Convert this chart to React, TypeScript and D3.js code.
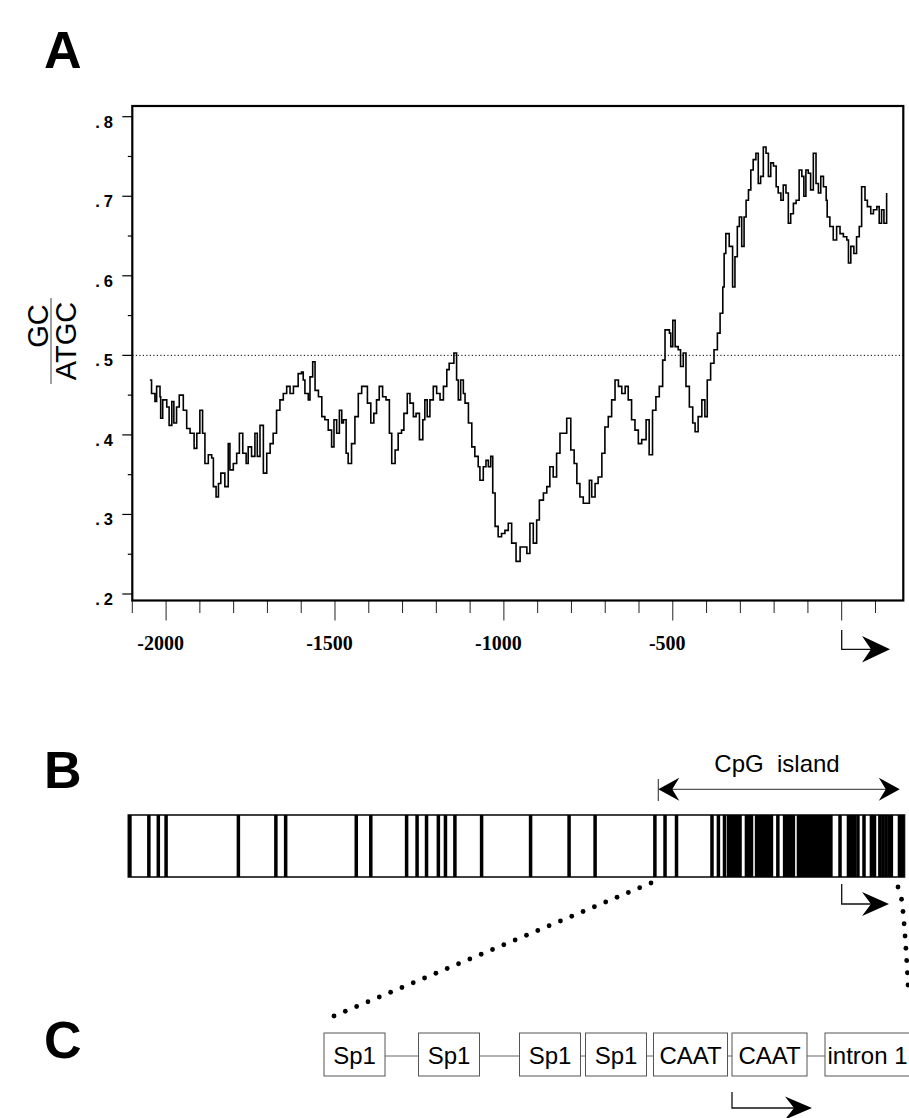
import { useEffect, useRef } from "react";
import * as d3 from "d3";

// Panel A: GC / ATGC ratio along the promoter, position in bp relative to the TSS
const gcPos = [
  -2048, -2043, -2033, -2028, -2018, -2016, -2010, -1998, -1991, -1983, -1977, -1969, -1961, -1949, -1939,
  -1929, -1917, -1909, -1900, -1892, -1885, -1875, -1865, -1860, -1852, -1845, -1838, -1826, -1816, -1811,
  -1801, -1791, -1783, -1773, -1763, -1757, -1747, -1737, -1730, -1722, -1712, -1702, -1692, -1683, -1673,
  -1663, -1653, -1643, -1633, -1623, -1609, -1599, -1594, -1589, -1579, -1574, -1566, -1559, -1549, -1539,
  -1530, -1520, -1510, -1503, -1495, -1487, -1480, -1475, -1467, -1461, -1451, -1441, -1431, -1421, -1411,
  -1404, -1394, -1385, -1377, -1369, -1359, -1349, -1339, -1332, -1322, -1313, -1303, -1296, -1286, -1278,
  -1268, -1260, -1250, -1240, -1234, -1227, -1219, -1209, -1199, -1189, -1179, -1169, -1162, -1155, -1148,
  -1140, -1135, -1128, -1120, -1115, -1105, -1095, -1086, -1076, -1071, -1061, -1053, -1046, -1039, -1033,
  -1026, -1017, -1007, -997, -987, -977, -964, -952, -932, -923, -913, -903, -895, -883, -873,
  -864, -854, -844, -834, -824, -814, -802, -792, -784, -775, -765, -753, -747, -740, -730,
  -721, -710, -701, -691, -681, -671, -661, -651, -641, -632, -622, -612, -602, -592, -579,
  -570, -560, -550, -540, -530, -523, -510, -506, -500, -493, -484, -477, -469, -461, -451,
  -441, -434, -425, -414, -405, -398, -388, -378, -368, -360, -352, -348, -343, -333, -323,
  -316, -309, -303, -296, -289, -283, -276, -269, -262, -254, -247, -240, -232, -224, -217,
  -210, -202, -194, -188, -180, -173, -165, -158, -151, -143, -135, -126, -118, -112, -106,
  -99, -92, -84, -76, -69, -62, -54, -46, -43, -35, -25, -15, -5, 5, 15,
  20, 27, 36, 44, 52, 59, 69, 76, 86, 94, 104, 111, 118, 125, 133,
];
const gcVal = [
  0.469, 0.452, 0.442, 0.461, 0.448, 0.421, 0.444, 0.435, 0.412, 0.442, 0.415, 0.435, 0.45, 0.431, 0.408,
  0.402, 0.383, 0.402, 0.431, 0.402, 0.364, 0.375, 0.371, 0.335, 0.322, 0.339, 0.352, 0.335, 0.389, 0.356,
  0.364, 0.377, 0.402, 0.377, 0.364, 0.385, 0.373, 0.402, 0.373, 0.412, 0.352, 0.377, 0.389, 0.402, 0.431,
  0.444, 0.452, 0.461, 0.452, 0.461, 0.477, 0.479, 0.469, 0.452, 0.444, 0.473, 0.492, 0.456, 0.448, 0.423,
  0.419, 0.406, 0.385, 0.419, 0.402, 0.431, 0.415, 0.419, 0.377, 0.364, 0.389, 0.423, 0.452, 0.461, 0.461,
  0.44, 0.415, 0.427, 0.444, 0.461, 0.448, 0.444, 0.402, 0.364, 0.381, 0.402, 0.406, 0.427, 0.452, 0.44,
  0.423, 0.427, 0.394, 0.419, 0.444, 0.423, 0.444, 0.461, 0.452, 0.444, 0.461, 0.482, 0.49, 0.49, 0.503,
  0.469, 0.444, 0.469, 0.452, 0.44, 0.415, 0.385, 0.373, 0.36, 0.343, 0.36, 0.368, 0.36, 0.373, 0.327,
  0.285, 0.272, 0.276, 0.28, 0.289, 0.264, 0.241, 0.259, 0.251, 0.289, 0.264, 0.293, 0.318, 0.327, 0.335,
  0.36, 0.347, 0.377, 0.402, 0.402, 0.421, 0.381, 0.364, 0.339, 0.322, 0.314, 0.314, 0.343, 0.322, 0.339,
  0.347, 0.377, 0.41, 0.423, 0.444, 0.469, 0.461, 0.452, 0.461, 0.444, 0.419, 0.406, 0.389, 0.394, 0.419,
  0.375, 0.431, 0.448, 0.461, 0.494, 0.532, 0.528, 0.511, 0.544, 0.511, 0.507, 0.486, 0.503, 0.461, 0.435,
  0.415, 0.404, 0.423, 0.444, 0.423, 0.469, 0.49, 0.507, 0.528, 0.553, 0.586, 0.628, 0.653, 0.637, 0.586,
  0.624, 0.662, 0.674, 0.637, 0.674, 0.695, 0.708, 0.733, 0.746, 0.754, 0.716, 0.725, 0.762, 0.754, 0.725,
  0.742, 0.738, 0.712, 0.704, 0.695, 0.714, 0.704, 0.666, 0.678, 0.691, 0.695, 0.733, 0.725, 0.7, 0.733,
  0.729, 0.708, 0.754, 0.716, 0.704, 0.725, 0.712, 0.695, 0.674, 0.662, 0.645, 0.662, 0.653, 0.649, 0.645,
  0.616, 0.637, 0.628, 0.649, 0.662, 0.712, 0.695, 0.687, 0.678, 0.683, 0.687, 0.666, 0.683, 0.666, 0.704,
];

const yMajorTicks = [0.2, 0.3, 0.4, 0.5, 0.6, 0.7, 0.8];
const yTickDigits = ["2", "3", "4", "5", "6", "7", "8"];
const xLabelTicks = [-2000, -1500, -1000, -500];
const xTickLabels = ["-2000", "-1500", "-1000", "-500"];
const referenceLevel = 0.5;

// Panel B: CpG dinucleotide positions (bp)
const cpgSites = [
  -2107, -2051, -2023, -2000, -1786, -1675, -1646, -1437, -1394, -1288, -1257, -1229, -1194, -1173, -1145,
  -1066, -921, -807, -730, -553, -523, -489, -384, -365, -347, -335, -326, -317, -308, -301,
  -282, -273, -267, -252, -243, -234, -226, -217, -208, -189, -169, -160, -152, -143, -128,
  -119, -110, -101, -92, -83, -75, -66, -57, -48, -39, -32, -5, 20, 29, 38,
  48, 66, 88, 97, 113, 122, 131, 140, 147, 171, 180,
];
const cpgIsland = [-543, 172];
const cpgLabel = "CpG  island";

// Panel C: promoter elements
const elements = ["Sp1", "Sp1", "Sp1", "Sp1", "CAAT", "CAAT", "intron 1"];

const sans = "'Liberation Sans', Arial, Helvetica, sans-serif";
const serif = "'Liberation Serif', 'Times New Roman', serif";

const App = () => {
  const svgRef = useRef<SVGSVGElement>(null);

  useEffect(() => {
    const svg = d3.select(svgRef.current);
    svg.selectAll("*").remove();

    // bent "transcription start" arrow
    const tss = (x0: number, yTop: number, yb: number, tip: number, back: number, h: number) => {
      const g = svg.append("g");
      g.append("path")
        .attr("d", `M${x0},${yTop} L${x0},${yb} L${tip - 14},${yb}`)
        .attr("fill", "none")
        .attr("stroke", "#111")
        .attr("stroke-width", 1.3);
      g.append("path")
        .attr("d", `M${tip},${yb} L${back},${yb - h} L${back + 9},${yb} L${back},${yb + h} Z`)
        .attr("fill", "#000");
    };

    const letter = (t: string, yy: number) =>
      svg
        .append("text")
        .attr("x", 44)
        .attr("y", yy)
        .attr("font-family", sans)
        .attr("font-weight", "bold")
        .attr("font-size", 52)
        .text(t);

    // ---------- Panel A ----------
    const x = d3.scaleLinear().domain([-2100, 0]).range([132.3, 841.7]);
    const y = d3.scaleLinear().domain([0.2, 0.8]).range([594, 116.7]);
    const frame = { left: 132.3, right: 903.3, top: 106, bottom: 600.5 };

    letter("A", 68);

    const gA = svg.append("g");

    // y ticks
    const yMinor = d3.range(0.25, 0.8, 0.1);
    gA.selectAll(".ymaj")
      .data(yMajorTicks)
      .enter()
      .append("line")
      .attr("x1", frame.left - 10)
      .attr("x2", frame.left)
      .attr("y1", (d) => y(d))
      .attr("y2", (d) => y(d))
      .attr("stroke", "#000")
      .attr("stroke-width", 1.2);
    gA.selectAll(".ymin")
      .data(yMinor)
      .enter()
      .append("line")
      .attr("x1", frame.left - 4.5)
      .attr("x2", frame.left)
      .attr("y1", (d) => y(d))
      .attr("y2", (d) => y(d))
      .attr("stroke", "#000")
      .attr("stroke-width", 1.2);
    const ylab = gA
      .selectAll(".ylab")
      .data(yMajorTicks)
      .enter()
      .append("text")
      .attr("x", 113)
      .attr("y", (d) => y(d) + 11)
      .attr("text-anchor", "end")
      .attr("font-family", sans)
      .attr("font-weight", "bold")
      .attr("font-size", 16.5);
    ylab.append("tspan").text(".");
    ylab
      .append("tspan")
      .attr("dx", 4)
      .text((d, i) => yTickDigits[i]);

    // x ticks
    const xTicks = d3.range(-2100, 101, 100);
    gA.selectAll(".xt")
      .data(xTicks)
      .enter()
      .append("line")
      .attr("x1", (d) => x(d))
      .attr("x2", (d) => x(d))
      .attr("y1", frame.bottom)
      .attr("y2", (d) => frame.bottom + (d % 500 === 0 ? 20 : 12.5))
      .attr("stroke", "#222")
      .attr("stroke-width", 1);
    gA.selectAll(".xlab")
      .data(xLabelTicks)
      .enter()
      .append("text")
      .attr("x", (d) => x(d) - 5.5)
      .attr("y", 650)
      .attr("text-anchor", "middle")
      .attr("font-family", serif)
      .attr("font-weight", "bold")
      .attr("font-size", 20)
      .text((d, i) => xTickLabels[i]);

    // reference line at 0.5
    gA.append("line")
      .attr("x1", frame.left)
      .attr("x2", frame.right)
      .attr("y1", y(referenceLevel))
      .attr("y2", y(referenceLevel))
      .attr("stroke", "#000")
      .attr("stroke-width", 1)
      .attr("stroke-dasharray", "1.2,2.3");

    // GC curve
    const pts: [number, number][] = gcPos.map((p, i) => [p, gcVal[i]]);
    const line = d3
      .line<[number, number]>()
      .x((d) => x(d[0]))
      .y((d) => y(d[1]))
      .curve(d3.curveStepAfter);
    gA.append("path")
      .datum(pts)
      .attr("d", line)
      .attr("fill", "none")
      .attr("stroke", "#000")
      .attr("stroke-width", 1.6);

    // frame
    gA.append("rect")
      .attr("x", frame.left)
      .attr("y", frame.top)
      .attr("width", frame.right - frame.left)
      .attr("height", frame.bottom - frame.top)
      .attr("fill", "none")
      .attr("stroke", "#000")
      .attr("stroke-width", 2.2);

    // y label: GC / ATGC
    const yl = svg.append("g").attr("transform", "translate(0,341) rotate(-90)");
    yl.append("text")
      .attr("x", 15)
      .attr("y", 48)
      .attr("text-anchor", "middle")
      .attr("font-family", sans)
      .attr("font-size", 29)
      .text("GC");
    yl.append("line")
      .attr("x1", -43)
      .attr("x2", 43)
      .attr("y1", 51)
      .attr("y2", 51)
      .attr("stroke", "#444")
      .attr("stroke-width", 1);
    yl.append("text")
      .attr("x", 0)
      .attr("y", 76)
      .attr("text-anchor", "middle")
      .attr("font-family", sans)
      .attr("font-size", 29)
      .text("ATGC");

    tss(x(0), 630, 649.3, 890, 862, 13.3);

    // ---------- Panel B ----------
    letter("B", 788);
    const b = { left: 128.3, right: 904.5, top: 815, bottom: 877 };
    const gB = svg.append("g");

    gB.append("rect")
      .attr("x", b.left)
      .attr("y", b.top)
      .attr("width", b.right - b.left)
      .attr("height", b.bottom - b.top)
      .attr("fill", "#fff")
      .attr("stroke", "#111")
      .attr("stroke-width", 1.6);
    gB.selectAll(".cpg")
      .data(cpgSites)
      .enter()
      .append("rect")
      .attr("x", (d) => x(d) - 1.75)
      .attr("y", b.top)
      .attr("width", 3.5)
      .attr("height", b.bottom - b.top)
      .attr("fill", "#000");

    // CpG island span
    const ix0 = x(cpgIsland[0]);
    const ix1 = x(cpgIsland[1]);
    const iy = 789.3;
    gB.append("line")
      .attr("x1", ix0)
      .attr("x2", ix0)
      .attr("y1", 779)
      .attr("y2", 801)
      .attr("stroke", "#222")
      .attr("stroke-width", 1);
    gB.append("line")
      .attr("x1", ix0 + 8)
      .attr("x2", ix1 - 8)
      .attr("y1", iy)
      .attr("y2", iy)
      .attr("stroke", "#555")
      .attr("stroke-width", 1.2);
    gB.append("path")
      .attr("d", `M${ix0},${iy} L${ix0 + 21},${iy - 11.5} L${ix0 + 14},${iy} L${ix0 + 21},${iy + 11.5} Z`)
      .attr("fill", "#000");
    gB.append("path")
      .attr("d", `M${ix1},${iy} L${ix1 - 21},${iy - 11.5} L${ix1 - 14},${iy} L${ix1 - 21},${iy + 11.5} Z`)
      .attr("fill", "#000");
    gB.append("text")
      .attr("x", 777)
      .attr("y", 772)
      .attr("text-anchor", "middle")
      .attr("font-family", sans)
      .attr("font-size", 24)
      .style("white-space", "pre")
      .text(cpgLabel);

    tss(x(0), 884, 904, 889, 862, 12);

    // zoom-in dotted guides
    const leftDots = d3.range(29).map((i) => {
      const t = i / 28;
      return [651 + (334 - 651) * t, 883 + (1016 - 883) * t];
    });
    const rightDots = d3.range(9).map((i) => {
      const t = i / 8;
      return [898 + 10 * Math.sqrt(t), 887 + (985 - 887) * t];
    });
    gB.selectAll(".dot")
      .data([...leftDots, ...rightDots])
      .enter()
      .append("circle")
      .attr("cx", (d) => d[0])
      .attr("cy", (d) => d[1])
      .attr("r", 2.4)
      .attr("fill", "#000");

    // ---------- Panel C ----------
    letter("C", 1058);
    const boxX = [324, 418.5, 519.5, 585.5, 653.5, 732, 825];
    const boxW = [61, 61, 61, 61, 74, 75, 95];
    const cTop = 1033;
    const cH = 43;
    const gC = svg.append("g");

    gC.selectAll(".conn")
      .data(d3.range(elements.length - 1))
      .enter()
      .append("line")
      .attr("x1", (i) => boxX[i] + boxW[i])
      .attr("x2", (i) => boxX[i + 1])
      .attr("y1", cTop + 23)
      .attr("y2", cTop + 23)
      .attr("stroke", "#666")
      .attr("stroke-width", 1);
    gC.selectAll(".box")
      .data(elements)
      .enter()
      .append("rect")
      .attr("x", (d, i) => boxX[i])
      .attr("y", cTop)
      .attr("width", (d, i) => boxW[i])
      .attr("height", cH)
      .attr("fill", "#fff")
      .attr("stroke", "#555")
      .attr("stroke-width", 1);
    gC.selectAll(".lab")
      .data(elements)
      .enter()
      .append("text")
      .attr("x", (d, i) => (i === elements.length - 1 ? boxX[i] + 2.5 : boxX[i] + boxW[i] / 2))
      .attr("y", cTop + 31)
      .attr("text-anchor", (d, i) => (i === elements.length - 1 ? "start" : "middle"))
      .attr("font-family", sans)
      .attr("font-size", 24)
      .text((d) => d);

    tss(boxX[5], 1092, 1108, 812, 785, 11.5);
  }, []);

  return (
    <div style={{ position: "absolute", left: 0, top: 0, background: "#fff" }}>
      <svg ref={svgRef} width={909} height={1118} style={{ display: "block", background: "#fff" }} />
    </div>
  );
};

export default App;
